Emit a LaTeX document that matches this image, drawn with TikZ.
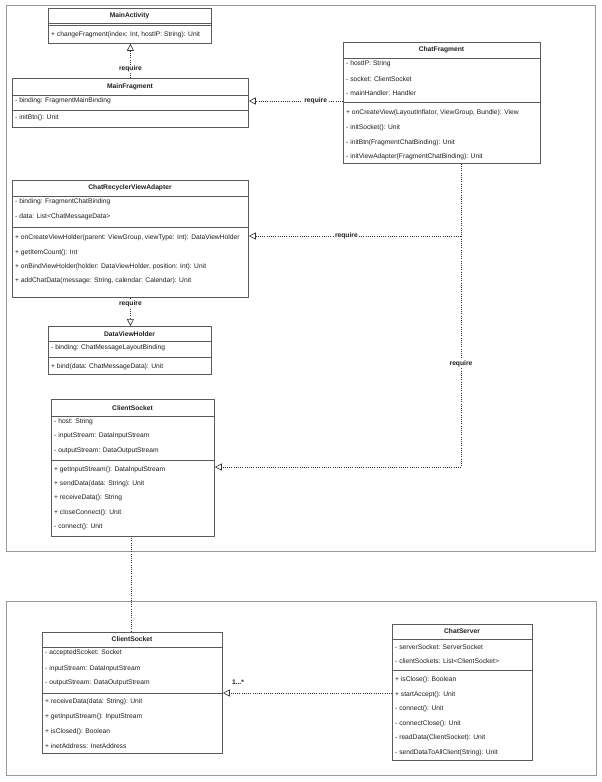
\documentclass[tikz,border=0pt]{standalone}
\usepackage{fontspec}
\setmainfont{Liberation Sans}
\usetikzlibrary{arrows.meta,calc}
\definecolor{boxgray}{HTML}{5A5A5A}
\definecolor{framegray}{HTML}{9A9A9A}
\definecolor{txt}{HTML}{1E1E1E}
\definecolor{dotc}{HTML}{333333}
\begin{document}
\begin{tikzpicture}[x=1pt,y=-1pt,
  box/.style={draw=boxgray, line width=0.8pt, fill=white, inner sep=0, anchor=north west},
  ttl/.style={font=\fontsize{6.7}{8}\selectfont\bfseries, text=txt, inner sep=0},
  row/.style={font=\fontsize{6.7}{8}\selectfont, text=txt, anchor=west, inner sep=0},
  sep/.style={draw=boxgray, line width=0.8pt},
  frame/.style={draw=framegray, line width=1.2pt},
  dep/.style={draw=dotc, line width=0.6pt, dash pattern=on 0.8pt off 1.4pt, -{Triangle[open,length=7pt,width=7pt,line width=0.6pt]}},
  link/.style={draw=dotc, line width=0.6pt, dash pattern=on 0.8pt off 1.4pt},
  lbl/.style={font=\fontsize{6.7}{8}\selectfont\bfseries, text=txt, fill=white, inner sep=1pt}]
\useasboundingbox (0,0) rectangle (602,782);
\fill[white] (0,0) rectangle (602,782);

% frames
\node[frame, inner sep=0, anchor=north west, minimum width=589pt, minimum height=546pt] (top) at (6,5) {};
\node[frame, inner sep=0, anchor=north west, minimum width=590pt, minimum height=174pt] (bot) at (6,601) {};

% MainActivity
\node[box, minimum width=163pt, minimum height=35pt] (ma) at (48,8) {};
\node[ttl] (ma-t) at (129.5,15.5) {MainActivity};
\draw[sep] (48,23) -- (211,23);
\draw[sep] (48,25) -- (211,25);
\node[row] (ma-m1) at (51,35) {+ changeFragment(index: Int, hostIP: String): Unit};

% MainFragment
\node[box, minimum width=236pt, minimum height=49pt] (mf) at (12,78) {};
\node[ttl] (mf-t) at (130,87) {MainFragment};
\draw[sep] (12,95) -- (248,95);
\node[row] (mf-a1) at (15,101) {- binding: FragmentMainBinding};
\draw[sep] (12,110) -- (248,110);
\node[row] (mf-m1) at (15,118) {- initBtn(): Unit};

% ChatFragment
\node[box, minimum width=197pt, minimum height=121pt] (cf) at (343,42) {};
\node[ttl] (cf-t) at (441.5,50) {ChatFragment};
\draw[sep] (343,58) -- (540,58);
\node[row] (cf-a1) at (346,64) {- hostIP: String};
\node[row] (cf-a2) at (346,79) {- socket: ClientSocket};
\node[row] (cf-a3) at (346,93) {- mainHandler: Handler};
\draw[sep] (343,102) -- (540,102);
\node[row] (cf-m1) at (346,113) {+ onCreateView(LayoutInflator, ViewGroup, Bundle): View};
\node[row] (cf-m2) at (346,128) {- initSocket(): Unit};
\node[row] (cf-m3) at (346,143) {- initBtn(FragmentChatBinding): Unit};
\node[row] (cf-m4) at (346,157) {- initViewAdapter(FragmentChatBinding): Unit};

% ChatRecyclerViewAdapter
\node[box, minimum width=236pt, minimum height=117pt] (cra) at (12,180) {};
\node[ttl] (cra-t) at (130,188) {ChatRecyclerViewAdapter};
\draw[sep] (12,196) -- (248,196);
\node[row] (cra-a1) at (15,202) {- binding: FragmentChatBinding};
\node[row] (cra-a2) at (15,217) {- data: List<ChatMessageData>};
\draw[sep] (12,227) -- (248,227);
\node[row] (cra-m1) at (15,238) {+ onCreateViewHolder(parent: ViewGroup, viewType: Int): DataViewHolder};
\node[row] (cra-m2) at (15,253) {+ getItemCount(): Int};
\node[row] (cra-m3) at (15,267) {+ onBindViewHolder(holder: DataViewHolder, position: Int): Unit};
\node[row] (cra-m4) at (15,281) {+ addChatData(message: String, calendar: Calendar): Unit};

% DataViewHolder
\node[box, minimum width=163pt, minimum height=48pt] (dvh) at (48,326) {};
\node[ttl] (dvh-t) at (129.5,334) {DataViewHolder};
\draw[sep] (48,341) -- (211,341);
\node[row] (dvh-a1) at (51,348) {- binding: ChatMessageLayoutBinding};
\draw[sep] (48,357) -- (211,357);
\node[row] (dvh-m1) at (51,367) {+ bind(data: ChatMessageData): Unit};

% ClientSocket (client)
\node[box, minimum width=163pt, minimum height=137pt] (cs1) at (51,399) {};
\node[ttl] (cs1-t) at (132.5,408) {ClientSocket};
\draw[sep] (51,416) -- (214,416);
\node[row] (cs1-a1) at (54,422) {- host: String};
\node[row] (cs1-a2) at (54,436) {- inputStream: DataInputStream};
\node[row] (cs1-a3) at (54,451) {- outputStream: DataOutputStream};
\draw[sep] (51,460) -- (214,460);
\node[row] (cs1-m1) at (54,470) {+ getInputStream(): DataInputStream};
\node[row] (cs1-m2) at (54,484) {+ sendData(data: String): Unit};
\node[row] (cs1-m3) at (54,498) {+ receiveData(): String};
\node[row] (cs1-m4) at (54,513) {+ closeConnect(): Unit};
\node[row] (cs1-m5) at (54,527) {- connect(): Unit};

% ClientSocket (server side)
\node[box, minimum width=180pt, minimum height=121pt] (cs2) at (42,632) {};
\node[ttl] (cs2-t) at (132,639.5) {ClientSocket};
\draw[sep] (42,647) -- (222,647);
\node[row] (cs2-a1) at (45,653) {- acceptedScoket: Socket};
\node[row] (cs2-a2) at (45,669) {- inputStream: DataInputStream};
\node[row] (cs2-a3) at (45,683) {- outputStream: DataOutputStream};
\draw[sep] (42,693) -- (222,693);
\node[row] (cs2-m1) at (45,702) {+ receiveData(data: String): Unit};
\node[row] (cs2-m2) at (45,717) {+ getInputStream(): InputStream};
\node[row] (cs2-m3) at (45,732) {+ isClosed(): Boolean};
\node[row] (cs2-m4) at (45,746) {+ inetAddress: InetAddress};

% ChatServer
\node[box, minimum width=140pt, minimum height=136pt] (srv) at (392,624) {};
\node[ttl] (srv-t) at (462,631.5) {ChatServer};
\draw[sep] (392,639) -- (532,639);
\node[row] (srv-a1) at (395,647) {- serverSocket: ServerSocket};
\node[row] (srv-a2) at (395,661) {- clientSockets: List<ClientSocket>};
\draw[sep] (392,670) -- (532,670);
\node[row] (srv-m1) at (395,680) {+ isClose(): Boolean};
\node[row] (srv-m2) at (395,695) {+ startAccept(): Unit};
\node[row] (srv-m3) at (395,709) {- connect(): Unit};
\node[row] (srv-m4) at (395,724) {- connectClose(): Unit};
\node[row] (srv-m5) at (395,738) {- readData(ClientSocket): Unit};
\node[row] (srv-m6) at (395,753) {- sendDataToAllClient(String): Unit};

% connectors
\coordinate (j1) at (461,236);
\coordinate (j2) at (461,467);
\coordinate (cs2sep) at ($(cs2.north east)+(0,61)$);

\draw[dep] (mf.north) -- node[lbl, pos=0.26] (l1) {require} (mf.north |- ma.south);
\draw[dep] (cf.west |- mf-a1) -- node[lbl, pos=0.29] (l2) {require} (mf.east |- mf-a1);
\draw[link] (j1 |- cf.south) -- node[lbl, pos=0.66] (l3) {require} (j2);
\draw[dep] (j2) -- (cs1.east |- j2);
\draw[dep] (j1) -- node[lbl, pos=0.54] (l4) {require} (cra.east |- j1);
\draw[dep] (cra.south) -- node[lbl, pos=0.2] (l5) {require} (cra.south |- dvh.north);
\draw[link] (131,536) -- (131,632);
\draw[dep] (srv.west |- cs2sep) -- (cs2sep);
\node[font=\fontsize{6.7}{8}\selectfont\bfseries, text=txt, inner sep=0] (l6) at (238,682) {1...*};
\end{tikzpicture}
\end{document}
